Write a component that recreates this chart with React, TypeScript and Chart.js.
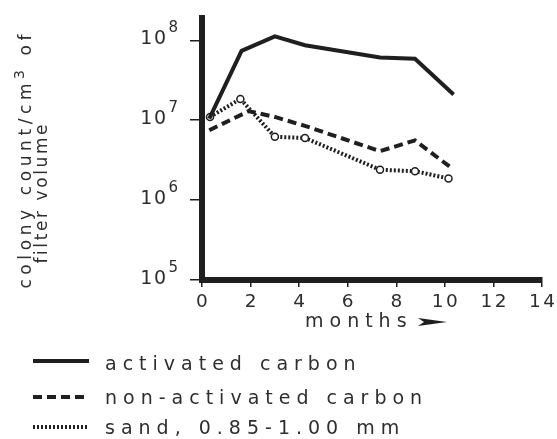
import React, { useEffect, useRef } from "react";
import { Chart, registerables } from "chart.js";

Chart.register(...registerables);

// ---- data ----
const monthsActivated = [0.3, 1.63, 3.0, 4.24, 7.33, 8.77, 10.36];
const activatedCarbon = [1.05e7, 7.4e7, 1.12e8, 8.7e7, 6.1e7, 5.9e7, 2.1e7];

const monthsNonActivated = [0.3, 1.92, 3.0, 4.24, 7.33, 8.77, 10.29];
const nonActivatedCarbon = [7.5e6, 1.3e7, 1.1e7, 8.5e6, 4.1e6, 5.6e6, 2.5e6];

const monthsSand = [0.33, 1.58, 3.0, 4.24, 7.33, 8.77, 10.15];
const sandFilter = [1.1e7, 1.85e7, 6.2e6, 6.0e6, 2.4e6, 2.3e6, 1.87e6];

const seriesLabels = ["activated carbon", "non-activated carbon", "sand, 0.85-1.00 mm"];
const xTickValues = [0, 2, 4, 6, 8, 10, 12, 14];
const yTickExponents = [5, 6, 7, 8];
const xTitle = "months";
const yTitleLine1 = [
  { t: "colony count/cm", sup: false },
  { t: "3", sup: true },
  { t: " of", sup: false },
];
const yTitleLine2 = [{ t: "filter volume", sup: false }];

const INK = "#1f1f1f";
const TEXT = "#2e2e2e";
const FONT = "'DejaVu Sans', sans-serif";

type Seg = { t: string; sup: boolean };

function drawSegs(
  ctx: CanvasRenderingContext2D,
  segs: Seg[],
  x: number,
  y: number,
  size: number,
  supSize: number,
  spacing: number,
  align: "left" | "center" | "right",
  supRaise: number
) {
  const widths = segs.map((s) => {
    ctx.font = `${s.sup ? supSize : size}px ${FONT}`;
    (ctx as any).letterSpacing = `${spacing}px`;
    return ctx.measureText(s.t).width;
  });
  const total = widths.reduce((a, b) => a + b, 0) - spacing;
  let cx = align === "left" ? x : align === "center" ? x - total / 2 : x - total;
  ctx.textAlign = "left";
  segs.forEach((s, i) => {
    ctx.font = `${s.sup ? supSize : size}px ${FONT}`;
    (ctx as any).letterSpacing = `${spacing}px`;
    ctx.fillText(s.t, cx, s.sup ? y - supRaise : y);
    cx += widths[i];
  });
}

const decorPlugin = {
  id: "decor",
  afterDraw(chart: any) {
    const ctx: CanvasRenderingContext2D = chart.ctx;
    const xs = chart.scales.x;
    const ys = chart.scales.y;
    ctx.save();

    // corner fill of the two thick axis borders
    ctx.fillStyle = INK;
    ctx.fillRect(chart.chartArea.left - 3, chart.chartArea.bottom - 3, 6, 6);

    ctx.fillStyle = TEXT;
    ctx.textBaseline = "alphabetic";

    // y tick labels with superscripts
    yTickExponents.forEach((e) => {
      const py = ys.getPixelForValue(Math.pow(10, e));
      drawSegs(ctx, [{ t: "10", sup: false }], 166, py + 4, 19, 14, 1.5, "right", 0);
      ctx.font = `15px ${FONT}`;
      (ctx as any).letterSpacing = "0px";
      ctx.textAlign = "left";
      ctx.fillText(String(e), 168.5, py - 8.5);
    });

    // x tick labels
    xTickValues.forEach((v) => {
      const px = xs.getPixelForValue(v);
      drawSegs(ctx, [{ t: String(v), sup: false }], px, 306.5, 18.5, 14, 2.5, "center", 0);
    });

    // x title + arrow
    drawSegs(ctx, [{ t: xTitle, sup: false }], 305, 327, 19, 14, 6, "left", 0);
    ctx.fillStyle = INK;
    ctx.beginPath();
    ctx.moveTo(418, 318);
    ctx.lineTo(447, 322);
    ctx.lineTo(418, 326);
    ctx.lineTo(424, 322);
    ctx.closePath();
    ctx.fill();
    ctx.fillStyle = TEXT;

    // y title (rotated, two lines)
    ctx.save();
    ctx.translate(27, 161.5);
    ctx.rotate(-Math.PI / 2);
    ctx.textBaseline = "middle";
    drawSegs(ctx, yTitleLine1, 0, 0, 17, 14, 4.6, "center", 7);
    ctx.restore();
    ctx.save();
    ctx.translate(43, 194);
    ctx.rotate(-Math.PI / 2);
    ctx.textBaseline = "middle";
    drawSegs(ctx, yTitleLine2, 0, 0, 17, 14, 2.6, "center", 7);
    ctx.restore();

    // legend
    const rows = [
      { lineY: 361, textY: 370.2 },
      { lineY: 397, textY: 404.2 },
      { lineY: 427, textY: 434.2 },
    ];
    chart.data.datasets.forEach((ds: any, i: number) => {
      const r = rows[i];
      ctx.save();
      ctx.strokeStyle = ds.borderColor;
      ctx.lineWidth = ds.borderWidth;
      ctx.setLineDash(ds.borderDash || []);
      ctx.beginPath();
      ctx.moveTo(33, r.lineY);
      ctx.lineTo(89, r.lineY);
      ctx.stroke();
      ctx.restore();
      ctx.fillStyle = TEXT;
      ctx.textBaseline = "alphabetic";
      drawSegs(ctx, [{ t: seriesLabels[i], sup: false }], 105, r.textY, 19, 14, 6, "left", 0);
    });

    ctx.restore();
  },
};

export default function App() {
  const ref = useRef<HTMLCanvasElement | null>(null);

  useEffect(() => {
    if (!ref.current) return;
    const toPts = (xs: number[], ys: number[]) => ys.map((y, i) => ({ x: xs[i], y }));
    const chart = new Chart(ref.current, {
      type: "line",
      data: {
        datasets: [
          {
            label: seriesLabels[0],
            data: toPts(monthsActivated, activatedCarbon),
            borderColor: INK,
            borderWidth: 4,
            pointRadius: 0,
            tension: 0,
          },
          {
            label: seriesLabels[1],
            data: toPts(monthsNonActivated, nonActivatedCarbon),
            borderColor: INK,
            borderWidth: 4,
            borderDash: [9, 5],
            pointRadius: 0,
            tension: 0,
          },
          {
            label: seriesLabels[2],
            data: toPts(monthsSand, sandFilter),
            borderColor: INK,
            borderWidth: 4,
            borderDash: [2, 2],
            pointRadius: 3.5,
            pointBorderWidth: 1.5,
            pointBackgroundColor: "#ffffff",
            pointBorderColor: INK,
            tension: 0,
          },
        ] as any,
      },
      options: {
        animation: false,
        responsive: false,
        events: [],
        layout: { padding: { top: 18, right: 15, left: 0, bottom: 0 } },
        plugins: {
          legend: { display: false },
          tooltip: { enabled: false },
          title: { display: false },
        },
        scales: {
          x: {
            type: "linear",
            min: 0,
            max: 14,
            afterBuildTicks: (s: any) => {
              s.ticks = xTickValues.map((v) => ({ value: v }));
            },
            afterFit: (s: any) => {
              s.height = 159;
            },
            ticks: { display: false },
            grid: {
              display: true,
              drawOnChartArea: false,
              drawTicks: true,
              tickLength: 7,
              color: INK,
              lineWidth: 1.5,
            },
            border: { display: true, width: 6, color: INK },
          },
          y: {
            type: "logarithmic",
            min: 1e5,
            max: Math.pow(10, 8.28),
            afterBuildTicks: (s: any) => {
              s.ticks = yTickExponents.map((e) => ({ value: Math.pow(10, e) }));
            },
            afterFit: (s: any) => {
              s.width = 202;
            },
            ticks: { display: false },
            grid: {
              display: true,
              drawOnChartArea: false,
              drawTicks: true,
              tickLength: 12,
              color: INK,
              lineWidth: 1.5,
            },
            border: { display: true, width: 6, color: INK },
          },
        },
      } as any,
      plugins: [decorPlugin],
    });
    return () => chart.destroy();
  }, []);

  return (
    <div style={{ position: "absolute", left: 0, top: 0, width: 557, height: 439, background: "#ffffff" }}>
      <canvas ref={ref} width={557} height={439} style={{ display: "block" }} />
    </div>
  );
}
